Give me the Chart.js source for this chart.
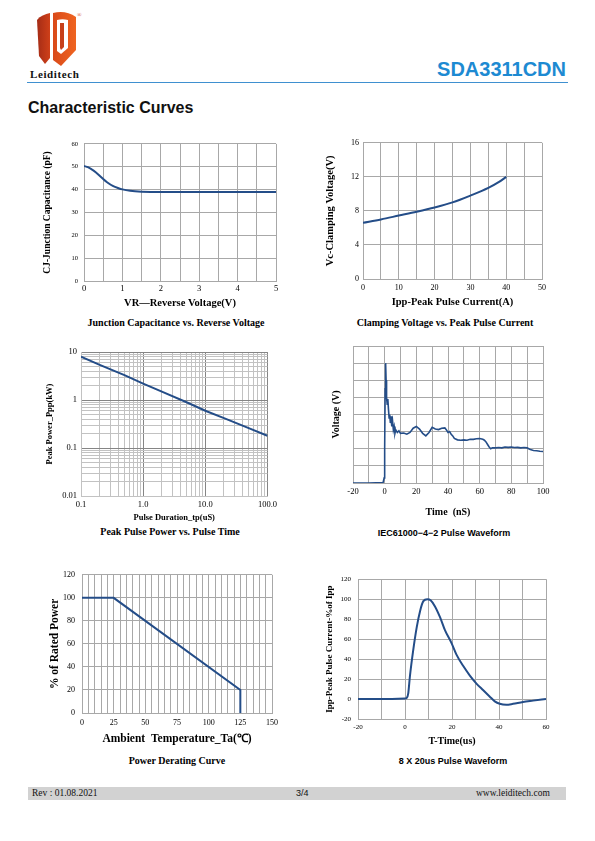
<!DOCTYPE html>
<html><head><meta charset="utf-8">
<script src="https://cdn.jsdelivr.net/npm/chart.js@4.4.0/dist/chart.umd.min.js"></script>
<style>
html,body{margin:0;padding:0;background:#fff;}
#page{position:relative;width:595px;height:841px;overflow:hidden;background:#fff;}
.abs{position:absolute;white-space:nowrap;}
canvas{position:absolute;}
.cap{position:absolute;white-space:nowrap;transform:translate(-50%,-50%);font-weight:bold;color:#000;line-height:1;}
.serif{font-family:"Liberation Serif","Times New Roman",serif;}
.sans{font-family:"Liberation Sans",Arial,sans-serif;}
</style></head><body><div id="page">

<svg class="abs" style="left:0;top:0" width="100" height="70">
  <defs>
    <linearGradient id="lg1" x1="0" x2="1" y1="0" y2="0">
      <stop offset="0" stop-color="#a52c16"/><stop offset="1" stop-color="#cf4019"/>
    </linearGradient>
    <linearGradient id="lg2" x1="0" x2="1" y1="0" y2="0">
      <stop offset="0" stop-color="#d94a1a"/><stop offset="1" stop-color="#ef6420"/>
    </linearGradient>
  </defs>
  <path d="M37,20 C40,16 45,14 50,13 L50,58 L45,64 L39,56 Z" fill="url(#lg1)"/>
  <path d="M53,13 C61,11 69,12 76,17 L76,50 L61,66 L53,60 Z" fill="url(#lg2)"/>
  <path d="M57,20 C61,19 64,19 68,20 L68,48 L61,54 L57,51 Z" fill="#fff"/>
  <path d="M60,23 L64,23 L64,47 L61,50 L60,48 Z" fill="#c7401a"/>
</svg>
<div class="abs serif" style="left:77px;top:12px;font-size:6px;color:#d43c1a;">®</div>
<div class="abs serif" style="left:30px;top:68px;font-size:11px;font-weight:bold;letter-spacing:0.6px;color:#111;">Leiditech</div>
<div class="abs sans" style="right:29px;top:58px;font-size:20px;font-weight:bold;color:#1d8ad2;">SDA3311CDN</div>
<div class="abs" style="left:27px;top:82px;width:541px;height:1px;background:#3f90d0;"></div>
<div class="abs sans" style="left:28px;top:99px;font-size:16px;font-weight:bold;color:#111;">Characteristic Curves</div>

<canvas id="c1"></canvas>
<canvas id="c2"></canvas>
<canvas id="c3"></canvas>
<canvas id="c4"></canvas>
<canvas id="c5"></canvas>
<canvas id="c6"></canvas>

<div class="cap serif" style="left:176px;top:323px;font-size:10px;">Junction Capacitance vs. Reverse Voltage</div>
<div class="cap serif" style="left:445px;top:323px;font-size:10px;">Clamping Voltage vs. Peak Pulse Current</div>
<div class="cap serif" style="left:170px;top:532px;font-size:10px;">Peak Pulse Power vs. Pulse Time</div>
<div class="cap sans" style="left:444px;top:533px;font-size:9px;">IEC61000−4−2 Pulse Waveform</div>
<div class="cap serif" style="left:177px;top:761px;font-size:10px;">Power Derating Curve</div>
<div class="cap sans" style="left:453px;top:761px;font-size:9px;">8 X 20us Pulse Waveform</div>

<div class="abs" style="left:28px;top:787px;width:538px;height:13px;background:#d2d2d2;"></div>
<div class="abs serif" style="left:32px;top:788px;font-size:9.5px;color:#111;">Rev : 01.08.2021</div>
<div class="abs sans" style="left:296px;top:788px;font-size:9px;color:#111;">3/4</div>
<div class="abs serif" style="left:476px;top:788px;font-size:9.5px;color:#111;">www.leiditech.com</div>

</div>
<script>
// ---------- data ----------
const cjVoltage      = [0, 0.1, 0.25, 0.4, 0.5, 0.6, 0.75, 0.9, 1, 1.2, 1.5, 2, 2.5, 3, 3.5, 4, 4.5, 5];
const cjCapacitance  = [50.3, 49.8, 48.3, 46.2, 44.6, 43.2, 41.6, 40.6, 40.1, 39.5, 39.1, 38.9, 38.9, 39.0, 38.9, 39.0, 39.0, 39.0];

const ippCurrent     = [0, 5, 10, 15, 20, 25, 30, 35, 38, 40];
const vcVoltage      = [6.6, 7.0, 7.45, 7.9, 8.4, 9.0, 9.8, 10.7, 11.4, 12.0];

const tpDuration     = [0.1, 0.2, 0.5, 1, 2, 5, 10, 20, 50, 100];
const pppPower       = [8, 5.4, 3.3, 2.2, 1.5, 0.9, 0.6, 0.42, 0.26, 0.18];
const tpTickLabels   = ['0.1', '1.0', '10.0', '100.0'];
const pppTickLabels  = ['0.01', '0.1', '1', '10'];

const iecTime    = [-20, -10, -1, -0.3, 0, 0.3, 0.6, 0.9, 1.2, 1.6, 2, 2.4, 2.8, 3.2, 3.6, 4, 4.5, 5, 5.5, 6, 6.5, 7, 8, 9, 10, 12, 14, 16, 18, 20, 22, 24, 26, 28, 30, 32, 34, 36, 38, 39, 40, 41, 42, 43, 44, 46, 48, 50, 52, 54, 56, 58, 60, 62, 63, 64, 65, 66, 67, 68, 70, 72, 74, 76, 78, 80, 82, 84, 86, 88, 90, 91, 92, 94, 96, 98, 100];
const iecVoltage = [0, 0, 0.02, 0.3, 2, 5.5, 7.0, 6.0, 5.0, 4.6, 4.9, 4.3, 3.8, 4.0, 3.5, 3.9, 3.3, 3.6, 3.1, 3.3, 2.9, 3.1, 2.95, 3.05, 2.9, 2.92, 2.85, 2.95, 3.2, 3.3, 3.15, 2.9, 2.75, 2.95, 3.25, 3.15, 3.12, 3.2, 3.22, 3.1, 2.95, 3.0, 2.85, 2.75, 2.6, 2.52, 2.5, 2.52, 2.5, 2.55, 2.55, 2.58, 2.6, 2.55, 2.5, 2.4, 2.25, 2.1, 2.0, 2.05, 2.05, 2.07, 2.05, 2.1, 2.08, 2.1, 2.07, 2.08, 2.05, 2.07, 2.05, 2.0, 1.95, 1.9, 1.88, 1.85, 1.84];

const derateTemp = [0, 25, 125, 125];
const deratePct  = [100, 100, 20, 0];

const pulseTime = [-20, -10, 0, 0.7, 1.4, 2.1, 3.5, 5, 6.4, 7.8, 9.5, 10.9, 12.7, 14.9, 17, 19.8, 21.9, 24.8, 27.6, 30.4, 33.2, 36, 38.2, 40.3, 43.1, 46, 50.2, 54.5, 60];
const pulsePct  = [0, 0, 0.5, 1, 6, 23, 49, 72, 88, 98, 100, 99, 93, 82, 69, 56, 44.5, 33, 23.5, 15.5, 9, 2.6, -2.3, -4.8, -5.8, -4.8, -2.9, -1.6, 0];

// ---------- style ----------
const SERIF = '"Liberation Serif","Times New Roman",serif';
const LINE = '#244d88';
const GRID = '#a8a8a8';
Chart.defaults.font.family = SERIF;
Chart.defaults.color = '#000';
Chart.defaults.animation = false;
Chart.defaults.devicePixelRatio = 1;
Chart.defaults.plugins.legend.display = false;
Chart.defaults.plugins.tooltip.enabled = false;

function place(id, g) {
  const c = document.getElementById(id);
  const w = g.yW + g.W + g.pr, h = g.pt + g.H + g.xH;
  c.width = w; c.height = h;
  c.style.left = (g.L - g.yW) + 'px'; c.style.top = (g.T - g.pt) + 'px';
  c.style.width = w + 'px'; c.style.height = h + 'px';
  return c;
}
function pts(xs, ys) { return xs.map((x, i) => ({x: x, y: ys[i]})); }
function every(n) { return v => (Math.abs(v / n - Math.round(v / n)) < 1e-9 ? String(v) : ''); }

function makeChart(id, g, o) {
  const c = place(id, g);
  return new Chart(c, {
    type: 'line',
    data: {datasets: [{
      data: pts(o.xs, o.ys),
      borderColor: LINE, borderWidth: o.bw || 2, pointRadius: 0, fill: false,
      cubicInterpolationMode: o.mono ? 'monotone' : 'default', tension: 0
    }]},
    options: {
      responsive: false,
      layout: {padding: {top: g.pt, right: g.pr, left: 0, bottom: 0}},
      scales: {
        x: Object.assign({
          type: o.xType || 'linear', min: o.xMin, max: o.xMax,
          grid: {color: o.xGrid || GRID, drawTicks: false},
          border: {color: o.xGrid || GRID},
          ticks: Object.assign({autoSkip: false, maxRotation: 0, padding: o.xPad || 3, font: {size: o.xFs || 8}}, o.xTicks),
          title: {display: true, text: o.xTitle, font: {size: o.xTFs || 10.5, weight: 'bold'}, padding: {top: 0, bottom: o.xTPad || 0}},
          afterFit: s => { s.height = g.xH; }
        }, o.xExtra || {}),
        y: Object.assign({
          type: o.yType || 'linear', min: o.yMin, max: o.yMax,
          grid: {color: o.yGrid || GRID, drawTicks: false},
          border: {color: o.yGrid || GRID},
          ticks: Object.assign({autoSkip: false, padding: o.yPad || 4, font: {size: o.yFs || 8}}, o.yTicks),
          title: {display: true, text: o.yTitle, font: {size: o.yTFs || 10, weight: 'bold'}, padding: {top: o.yTPad || 0, bottom: 0}},
          afterFit: s => { s.width = g.yW; }
        }, o.yExtra || {})
      }
    }
  });
}

// 1. Junction capacitance
makeChart('c1', {L: 84, T: 140, W: 192, H: 141, yW: 44, xH: 30, pt: 6, pr: 8}, {
  xs: cjVoltage, ys: cjCapacitance, mono: true,
  xMin: 0, xMax: 5, xTicks: {stepSize: 0.5, callback: every(1)}, xFs: 8.5, xPad: 3,
  xTitle: 'VR—Reverse Voltage(V)', xTFs: 10.5, xTPad: 1,
  yMin: 0, yMax: 60, yTicks: {stepSize: 10}, yFs: 6.5, yPad: 6,
  yTitle: 'CJ-Junction Capacitance (pF)', yTFs: 9.5, yTPad: 2
});

// 2. Clamping voltage
makeChart('c2', {L: 363, T: 140, W: 179, H: 139, yW: 40, xH: 30, pt: 6, pr: 10}, {
  xs: ippCurrent, ys: vcVoltage, mono: true,
  xMin: 0, xMax: 50, xTicks: {stepSize: 5, callback: every(10)}, xFs: 8, xPad: 4,
  xTitle: 'Ipp-Peak Pulse Current(A)', xTFs: 10.5, xTPad: 0,
  yMin: 0, yMax: 16, yTicks: {stepSize: 4}, yFs: 8, yPad: 4,
  yTitle: 'Vc-Clamping Voltage(V)', yTFs: 10.5, yTPad: 1
});

// 3. Peak pulse power (log-log)
function isDecade(v) { const l = Math.log10(v); return Math.abs(l - Math.round(l)) < 1e-6; }
function logTicks(lo, hi) {
  const t = [];
  for (let e = Math.round(Math.log10(lo)); e < Math.round(Math.log10(hi)); e++)
    for (let k = 1; k < 10; k++) t.push({value: +(k * Math.pow(10, e)).toPrecision(3)});
  t.push({value: hi});
  return t;
}
function decadeLabel(labels, lo) {
  return v => isDecade(v) ? labels[Math.round(Math.log10(v) - Math.log10(lo))] : '';
}
makeChart('c3', {L: 81, T: 349, W: 188, H: 147, yW: 40, xH: 29, pt: 6, pr: 12}, {
  xs: tpDuration, ys: pppPower, mono: false,
  xType: 'logarithmic', xMin: 0.1, xMax: 100, xFs: 8.5, xPad: 4,
  xTicks: {callback: decadeLabel(tpTickLabels, 0.1)},
  xGrid: c => (c.tick && isDecade(c.tick.value)) ? '#858585' : '#c2c2c2',
  xExtra: {afterBuildTicks: s => { s.ticks = logTicks(0.1, 100); }},
  xTitle: 'Pulse Duration_tp(uS)', xTFs: 8.5, xTPad: 2,
  yType: 'logarithmic', yMin: 0.01, yMax: 10, yFs: 8.5, yPad: 4,
  yTicks: {callback: decadeLabel(pppTickLabels, 0.01)},
  yGrid: c => (c.tick && isDecade(c.tick.value)) ? '#858585' : '#c2c2c2',
  yExtra: {afterBuildTicks: s => { s.ticks = logTicks(0.01, 10); }},
  yTitle: 'Peak Power_Ppp(kW)', yTFs: 8.5, yTPad: 4
});

// 4. IEC61000-4-2
makeChart('c4', {L: 353, T: 346, W: 190, H: 137, yW: 26, xH: 36, pt: 4, pr: 12}, {
  xs: iecTime, ys: iecVoltage, mono: false, bw: 1.6,
  xMin: -20, xMax: 100, xTicks: {stepSize: 10, callback: every(20)}, xFs: 8.5, xPad: 4,
  xTitle: 'Time  (nS)', xTFs: 10, xTPad: 1,
  yMin: 0, yMax: 8, yTicks: {stepSize: 1, display: false},
  yTitle: 'Voltage (V)', yTFs: 10, yTPad: 3
});

// 5. Power derating
makeChart('c5', {L: 82, T: 569, W: 191, H: 144, yW: 34, xH: 34, pt: 6, pr: 10}, {
  xs: derateTemp, ys: deratePct, mono: false,
  xMin: 0, xMax: 150, xTicks: {stepSize: 5, callback: every(25)}, xFs: 8, xPad: 5,
  xTitle: 'Ambient  Temperature_Ta(℃)', xTFs: 11.5, xTPad: 1,
  yMin: 0, yMax: 120, yTicks: {stepSize: 20}, yFs: 8, yPad: 7,
  yTitle: '% of Rated Power', yTFs: 11.5, yTPad: 0
});

// 6. 8x20us
makeChart('c6', {L: 358, T: 574, W: 188, H: 145, yW: 36, xH: 28, pt: 6, pr: 10}, {
  xs: pulseTime, ys: pulsePct, mono: true,
  xMin: -20, xMax: 60, xTicks: {stepSize: 10, callback: every(20)}, xFs: 7, xPad: 4,
  xTitle: 'T-Time(us)', xTFs: 10, xTPad: 0,
  yMin: -20, yMax: 120, yTicks: {stepSize: 20}, yFs: 7, yPad: 7,
  yTitle: 'Ipp-Peak Pulse Current-%of Ipp', yTFs: 9, yTPad: 2
});
</script>
</body></html>
